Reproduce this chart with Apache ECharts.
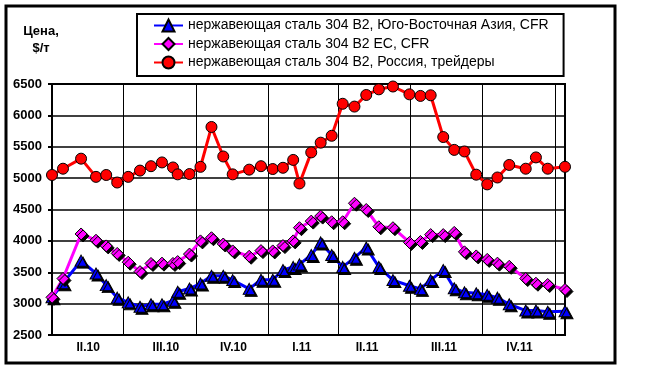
<!DOCTYPE html>
<html>
<head>
<meta charset="utf-8">
<script src="https://cdn.jsdelivr.net/npm/echarts@6/dist/echarts.min.js"></script>
<style>
html,body{margin:0;padding:0;background:#fff;}
#chart{width:650px;height:383px;}
</style>
</head>
<body>
<div id="chart"></div>
<script>
const dates = ['2010-04-01','2010-04-15','2010-05-08','2010-05-27','2010-06-09','2010-06-23','2010-07-07','2010-07-22','2010-08-05','2010-08-19','2010-09-02','2010-09-08','2010-09-23','2010-10-07','2010-10-21','2010-11-05','2010-11-17','2010-12-08','2010-12-23','2011-01-07','2011-01-20','2011-02-02','2011-02-10','2011-02-25','2011-03-09','2011-03-23','2011-04-06','2011-04-21','2011-05-06','2011-05-22','2011-06-09','2011-06-30','2011-07-14','2011-07-27','2011-08-12','2011-08-26','2011-09-08','2011-09-23','2011-10-07','2011-10-20','2011-11-04','2011-11-25','2011-12-08','2011-12-23','2012-01-14'];
const seriesNames = ['нержавеющая сталь 304 В2, Юго-Восточная Азия, CFR','нержавеющая сталь 304 В2 ЕС, CFR','нержавеющая сталь 304 В2, Россия, трейдеры'];
const asiaCFR = [3100,3325,3685,3480,3295,3095,3020,2950,2990,2990,3045,3190,3240,3320,3445,3445,3375,3235,3380,3380,3535,3585,3625,3775,3975,3775,3585,3730,3895,3585,3375,3285,3235,3375,3535,3245,3180,3165,3140,3095,2990,2890,2890,2870,2880];
const euCFR = [3100,3400,4110,4010,3920,3800,3660,3510,3640,3645,3640,3670,3790,4000,4050,3950,3840,3755,3845,3840,3925,4000,4210,4315,4395,4305,4305,4600,4500,4225,4210,3975,3990,4100,4100,4135,3825,3760,3705,3645,3595,3400,3325,3305,3225];
const russiaTraders = [5050,5150,5310,5020,5050,4930,5020,5120,5190,5250,5170,5060,5065,5180,5815,5345,5060,5135,5190,5145,5165,5290,4915,5410,5565,5675,6185,6140,6325,6415,6460,6335,6310,6320,5655,5450,5425,5055,4900,5010,5210,5150,5330,5150,5180];
const quarterStarts = ['2010-07-01','2010-10-01','2011-01-01','2011-04-01','2011-07-01','2011-10-01','2012-01-01'];
const quarterLabels = ['II.10','III.10','IV.10','I.11','II.11','III.11','IV.11'];
const quarterLabelDates = ['2010-05-17','2010-08-24','2010-11-18','2011-02-13','2011-05-07','2011-08-13','2011-11-17'];
const yTicks = {min:2500, max:6500, step:500};

const DAY = 86400000;
const t0 = Date.parse(dates[0]);
const toDay = d => Math.round((Date.parse(d) - t0) / DAY);
const xDays = dates.map(toDay);
const lastDay = xDays[xDays.length - 1];
const labelDays = quarterLabelDates.map(toDay);
const boundaryDays = quarterStarts.map(toDay);
const pair = arr => arr.map((v, i) => [xDays[i], v]);

const FONT = 'Liberation Sans, Arial, sans-serif';
const chart = echarts.init(document.getElementById('chart'), null, {renderer:'canvas'});
const shadowItem = (color) => ({color: color, borderColor:'#000', borderWidth:1, shadowColor:'#000', shadowOffsetX:2, shadowOffsetY:2, shadowBlur:0});

chart.setOption({
  animation:false,
  backgroundColor:'#fff',
  graphic:[
    {type:'rect', silent:true, z:-1, shape:{x:6, y:6, width:609, height:357}, style:{fill:'#fff', stroke:'#000', lineWidth:3}},
    {type:'text', silent:true, x:41, y:23, style:{text:'Цена,\n$/т', fontFamily:FONT, fontWeight:'bold', fontSize:13, lineHeight:17, align:'center', fill:'#000'}}
  ],
  legend:{
    orient:'vertical', left:137, top:14, padding:[4,15,6,16], itemGap:3.5, itemWidth:29, itemHeight:15,
    borderColor:'#000', borderWidth:2, backgroundColor:'#fff',
    textStyle:{fontFamily:FONT, fontSize:14, lineHeight:15, color:'#000'},
    data:seriesNames
  },
  grid:{left:52, top:84, right:85, bottom:48, show:true, borderColor:'#000', borderWidth:2, backgroundColor:'#fff', containLabel:false},
  xAxis:{
    type:'value', min:0, max:lastDay,
    axisLine:{show:true, lineStyle:{color:'#000', width:2}},
    axisTick:{show:false, customValues:boundaryDays},
    splitLine:{show:true, lineStyle:{color:'#000', width:1}},
    axisLabel:{customValues:labelDays, margin:7, fontFamily:FONT, fontWeight:'bold', fontSize:12, color:'#000',
      formatter:(v) => { const i = labelDays.indexOf(Math.round(v)); return i >= 0 ? quarterLabels[i] : ''; }}
  },
  yAxis:{
    type:'value', min:yTicks.min, max:yTicks.max, interval:yTicks.step,
    axisLine:{show:true, lineStyle:{color:'#000', width:2}},
    axisTick:{show:true, inside:false, length:4, lineStyle:{color:'#000', width:2}},
    splitLine:{show:true, lineStyle:{color:'#000', width:1.5}},
    axisLabel:{margin:10, fontFamily:FONT, fontWeight:'bold', fontSize:13, color:'#000', formatter:(v) => String(v)}
  },
  series:[
    {name:seriesNames[0], type:'line', data:pair(asiaCFR), symbol:'triangle', symbolSize:[12,11], showAllSymbol:true,
      lineStyle:{color:'#0000ff', width:3}, itemStyle:shadowItem('#0000ff')},
    {name:seriesNames[1], type:'line', data:pair(euCFR), symbol:'diamond', symbolSize:[12,12], showAllSymbol:true,
      lineStyle:{color:'#ff00ff', width:3}, itemStyle:shadowItem('#ff00ff')},
    {name:seriesNames[2], type:'line', data:pair(russiaTraders), symbol:'circle', symbolSize:11, showAllSymbol:true,
      lineStyle:{color:'#ff0000', width:3}, itemStyle:{color:'#ff0000', borderColor:'#000', borderWidth:1}}
  ]
});
</script>
</body>
</html>
